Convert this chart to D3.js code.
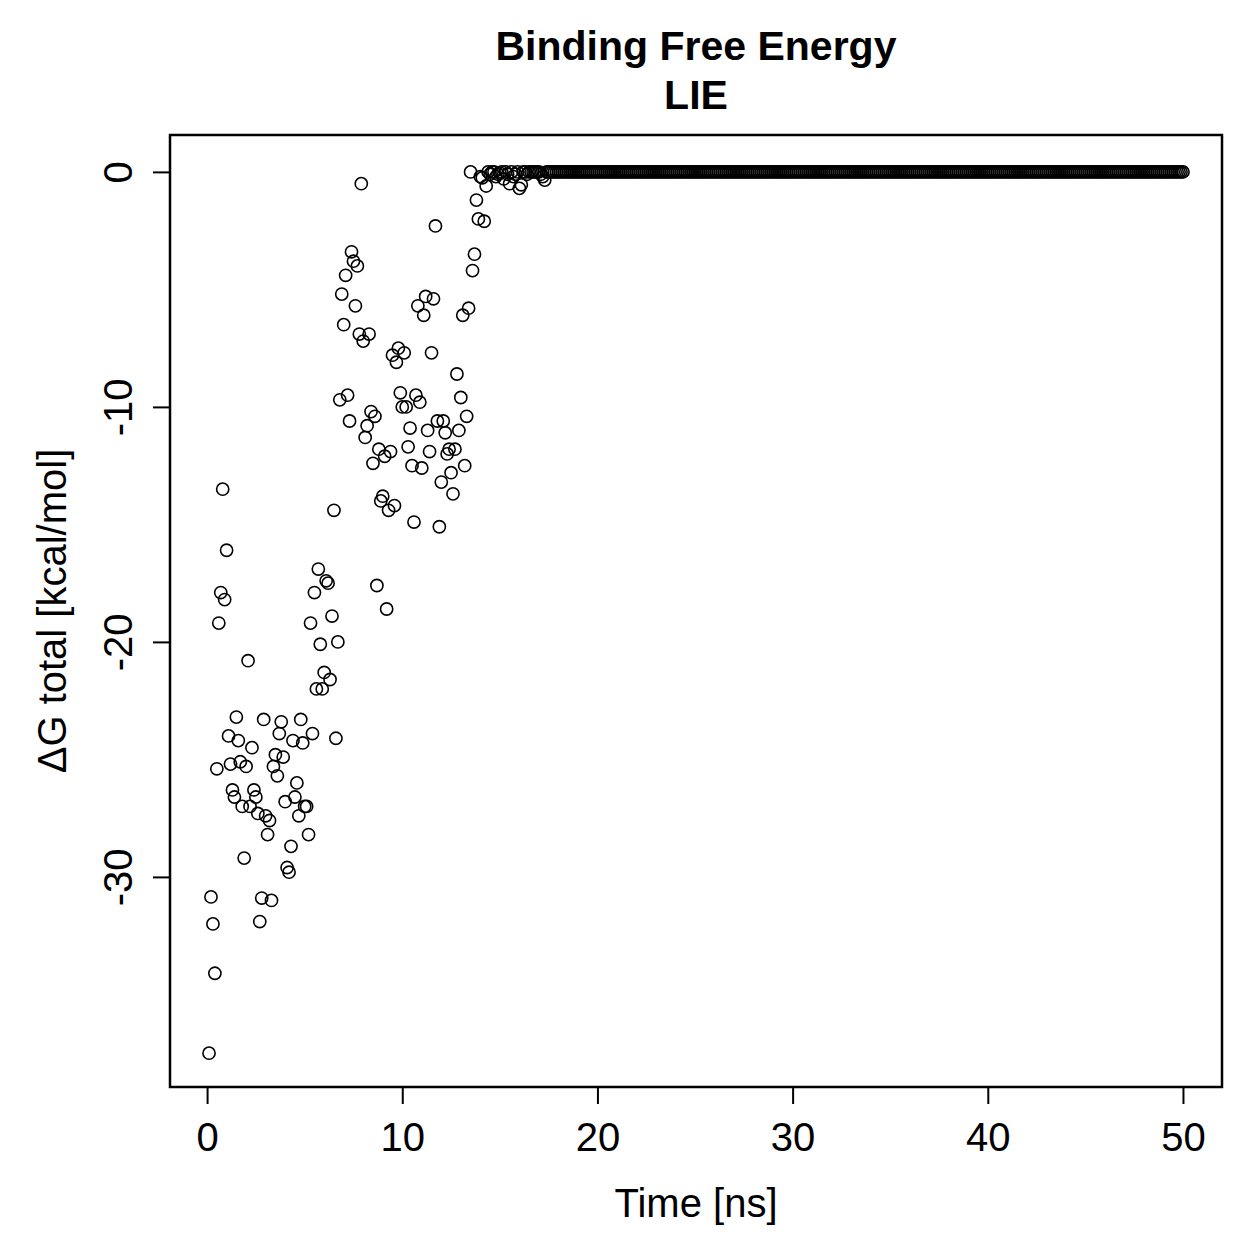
<!DOCTYPE html>
<html>
<head>
<meta charset="utf-8">
<script src="https://cdn.jsdelivr.net/npm/d3@7"></script>
<style>
  body { margin: 0; background: #fff; }
  svg { display: block; font-family: "Liberation Sans", Arial, Helvetica, sans-serif; }
</style>
</head>
<body>
<div id="chart"></div>
<script>
// time step of the series (ns), one frame every 0.1 ns, 500 frames
var timeStep = 0.1;
// ΔG values, frames 1..175
var dgStart = [
  -37.5, -30.85, -32.0, -34.1, -25.4, -19.2, -17.9, -13.5, -18.2, -16.1,
  -24.0, -25.2, -26.3, -26.6, -23.2, -24.2, -25.1, -27.0, -29.2, -25.3,
  -20.8, -27.0, -24.5, -26.3, -26.6, -27.3, -31.9, -30.9, -23.3, -27.4,
  -28.2, -27.6, -31.0, -25.3, -24.8, -25.7, -23.9, -23.4, -24.9, -26.8,
  -29.6, -29.8, -28.7, -24.2, -26.6, -26.0, -27.4, -23.3, -24.3, -27.0,
  -27.0, -28.2, -19.2, -23.9, -17.9, -22.0, -16.9, -20.1, -22.0, -21.3,
  -17.4, -17.5, -21.6, -18.9, -14.4, -24.1, -20.0, -9.7, -5.2, -6.5,
  -4.4, -9.5, -10.6, -3.4, -3.8, -5.7, -4.0, -6.9, -0.5, -7.2,
  -11.3, -10.8, -6.9, -10.2, -12.4, -10.4, -17.6, -11.8, -14.0, -13.8,
  -12.1, -18.6, -14.4, -11.9, -7.8, -14.2, -8.1, -7.5, -9.4, -10.0,
  -7.7, -10.0, -11.7, -10.9, -12.5, -14.9, -9.5, -5.7, -9.8, -12.6,
  -6.1, -5.3, -11.0, -11.9, -7.7, -5.4, -2.3, -10.6, -15.1, -13.2,
  -10.6, -11.1, -12.0, -11.8, -12.8, -13.7, -11.8, -8.6, -11.0, -9.6,
  -6.1, -12.5, -10.4, -5.8, 0.0, -4.2, -3.5, -1.2, -2.0, -0.2,
  -0.25, -2.1, -0.6, 0.0, -0.1, 0.0, 0.0, -0.2, -0.1, -0.05,
  0.0, -0.3, 0.0, -0.1, -0.5, 0.0, -0.2, -0.1, 0.0, -0.7,
  -0.55, 0.0, 0.0, -0.1, 0.0, 0.0, 0.0, 0.0, 0.0, 0.0,
  -0.1, -0.2, -0.35, 0.0, 0.0
];
// frames 176..500 all sit on 0
var dgTail = [
  0,0,0,0,0,0,0,0,0,0,0,0,0,0,0,0,0,0,0,0,0,0,0,0,0,
  0,0,0,0,0,0,0,0,0,0,0,0,0,0,0,0,0,0,0,0,0,0,0,0,0,
  0,0,0,0,0,0,0,0,0,0,0,0,0,0,0,0,0,0,0,0,0,0,0,0,0,
  0,0,0,0,0,0,0,0,0,0,0,0,0,0,0,0,0,0,0,0,0,0,0,0,0,
  0,0,0,0,0,0,0,0,0,0,0,0,0,0,0,0,0,0,0,0,0,0,0,0,0,
  0,0,0,0,0,0,0,0,0,0,0,0,0,0,0,0,0,0,0,0,0,0,0,0,0,
  0,0,0,0,0,0,0,0,0,0,0,0,0,0,0,0,0,0,0,0,0,0,0,0,0,
  0,0,0,0,0,0,0,0,0,0,0,0,0,0,0,0,0,0,0,0,0,0,0,0,0,
  0,0,0,0,0,0,0,0,0,0,0,0,0,0,0,0,0,0,0,0,0,0,0,0,0,
  0,0,0,0,0,0,0,0,0,0,0,0,0,0,0,0,0,0,0,0,0,0,0,0,0,
  0,0,0,0,0,0,0,0,0,0,0,0,0,0,0,0,0,0,0,0,0,0,0,0,0,
  0,0,0,0,0,0,0,0,0,0,0,0,0,0,0,0,0,0,0,0,0,0,0,0,0,
  0,0,0,0,0,0,0,0,0,0,0,0,0,0,0,0,0,0,0,0,0,0,0,0,0
];
var xTicks = [0, 10, 20, 30, 40, 50];
var yTicks = [0, -10, -20, -30];

var W = 1259, H = 1259;
var box = { left: 170, right: 1222, top: 135, bottom: 1087 };
var fontSize = 40;

var dg = dgStart.concat(dgTail);
var points = dg.map(function(v, i) { return { t: (i + 1) * timeStep, v: v }; });

var svg = d3.select("#chart").append("svg").attr("width", W).attr("height", H);

// R style: 4% padding around the data range
var x = d3.scaleLinear().domain([-1.9, 52.0]).range([box.left, box.right]);
var y = d3.scaleLinear().domain([-38.94, 1.57]).range([box.bottom, box.top]);

// points
svg.append("g").selectAll("circle").data(points).enter().append("circle")
  .attr("cx", function(d) { return x(d.t); })
  .attr("cy", function(d) { return y(d.v); })
  .attr("r", 6.1)
  .attr("fill", "none")
  .attr("stroke", "#000")
  .attr("stroke-width", 1.6);

// x axis
var xAxis = svg.append("g").attr("transform", "translate(0," + box.bottom + ")")
  .call(d3.axisBottom(x).tickValues(xTicks).tickSize(17).tickPadding(19)
    .tickFormat(function(d) { return String(d); }));
xAxis.select(".domain")
  .attr("d", "M" + x(0) + ",0H" + x(50))
  .attr("stroke-width", 2);
xAxis.selectAll(".tick line").attr("stroke-width", 2);
xAxis.selectAll(".tick text").attr("font-size", fontSize).attr("font-family", null).attr("fill", "#000");

// y axis, labels turned like R (las = 0), plain hyphen for minus
var yAxis = svg.append("g").attr("transform", "translate(" + box.left + ",0)")
  .call(d3.axisLeft(y).tickValues(yTicks).tickSize(17)
    .tickFormat(function(d) { return String(d); }));
yAxis.select(".domain")
  .attr("d", "M0," + y(0) + "V" + y(-30))
  .attr("stroke-width", 2);
yAxis.selectAll(".tick line").attr("stroke-width", 2);
yAxis.selectAll(".tick text")
  .attr("font-size", fontSize).attr("font-family", null).attr("fill", "#000")
  .attr("x", null).attr("dy", null)
  .attr("text-anchor", "middle")
  .attr("transform", "translate(-38,0) rotate(-90)");

// frame
svg.append("rect")
  .attr("x", box.left).attr("y", box.top)
  .attr("width", box.right - box.left).attr("height", box.bottom - box.top)
  .attr("fill", "none").attr("stroke", "#000").attr("stroke-width", 2.5);

// titles
var cx = (box.left + box.right) / 2;
svg.append("text").attr("x", cx).attr("y", 60).attr("text-anchor", "middle")
  .attr("font-size", 41).attr("font-weight", "bold").text("Binding Free Energy");
svg.append("text").attr("x", cx).attr("y", 109).attr("text-anchor", "middle")
  .attr("font-size", 41).attr("font-weight", "bold").text("LIE");
svg.append("text").attr("x", cx).attr("y", 1217).attr("text-anchor", "middle")
  .attr("font-size", fontSize).text("Time [ns]");
svg.append("text").attr("text-anchor", "middle")
  .attr("transform", "translate(66," + ((box.top + box.bottom) / 2) + ") rotate(-90)")
  .attr("font-size", fontSize).text("ΔG total [kcal/mol]");
</script>
</body>
</html>
